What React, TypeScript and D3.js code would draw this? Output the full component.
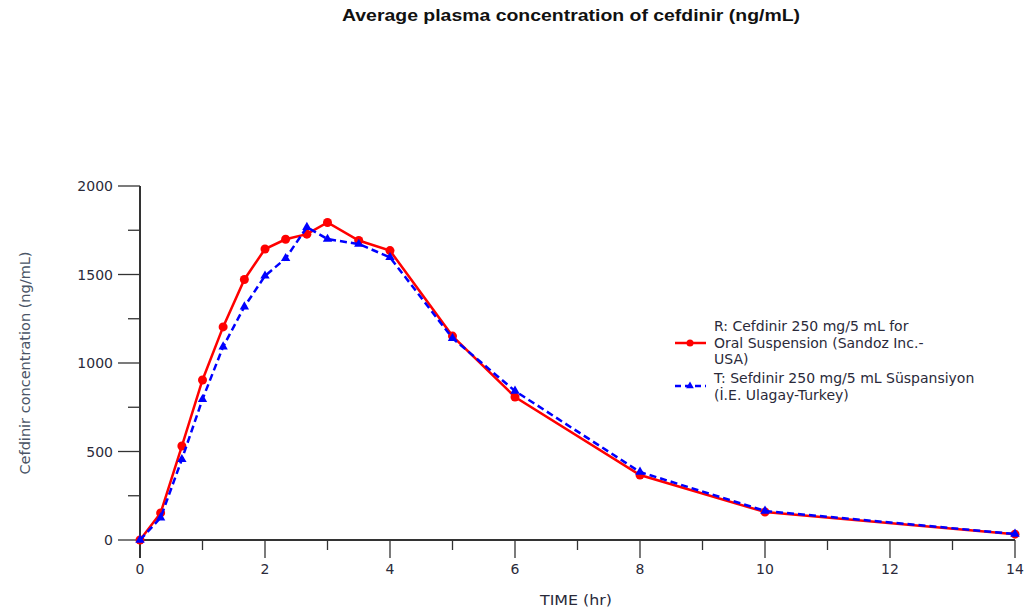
import React from "react";
import * as d3 from "d3";

const times = [0, 0.33, 0.67, 1, 1.33, 1.67, 2, 2.33, 2.67, 3, 3.5, 4, 5, 6, 8, 10, 14];
const refValues = [0, 153, 531, 904, 1204, 1472, 1644, 1699, 1728, 1794, 1692, 1635, 1152, 808, 367, 158, 33];
const testValues = [0, 126, 456, 795, 1092, 1318, 1492, 1591, 1767, 1700, 1672, 1597, 1140, 842, 384, 164, 34];
const xMajorTicks = [0, 2, 4, 6, 8, 10, 12, 14];
const xMinorTicks = [1, 3, 5, 7, 9, 11, 13];
const yMajorTicks = [0, 500, 1000, 1500, 2000];
const yMinorTicks = [250, 750, 1250, 1750];
const refLegend = ["R: Cefdinir 250 mg/5 mL for", "Oral Suspension (Sandoz Inc.-", "USA)"];
const testLegend = ["T: Sefdinir 250 mg/5 mL Süspansiyon", "(İ.E. Ulagay-Turkey)"];

export default function App() {
  const W = 1027, H = 610;
  const x = d3.scaleLinear().domain([0, 14]).range([140, 1015]);
  const y = d3.scaleLinear().domain([0, 2000]).range([540, 186]);
  const line = d3.line<number>().x((_, i) => x(times[i])).y((d) => y(d));
  const font = "'DejaVu Sans', Verdana, sans-serif";
  const tri = d3.symbol().type(d3.symbolTriangle).size(38)() as string;
  const textColor = "#2a2a3a";
  return (
    <svg width={W} height={H} style={{ position: "absolute", left: 0, top: 0, background: "#fff" }}>
      <text x={571} y={21} textAnchor="middle" fontFamily="'Liberation Sans', Arial, sans-serif" fontWeight="bold" fontSize={16} fill="#111" textLength={458} lengthAdjust="spacingAndGlyphs">
        Average plasma concentration of cefdinir (ng/mL)
      </text>
      {/* axes */}
      <line x1={x(0)} x2={x(14)} y1={y(0)} y2={y(0)} stroke="#333" strokeWidth={2} />
      <line x1={x(0)} x2={x(0)} y1={y(0) + 18} y2={y(2000)} stroke="#333" strokeWidth={2} />
      {yMajorTicks.map((t) => (
        <g key={"ym" + t}>
          <line x1={118} x2={x(0)} y1={y(t)} y2={y(t)} stroke="#333" strokeWidth={1.3} />
          <text x={113} y={y(t) + 5} textAnchor="end" fontFamily={font} fontSize={14} fill={textColor}>{t}</text>
        </g>
      ))}
      {yMinorTicks.map((t) => (
        <line key={"yn" + t} x1={128} x2={x(0)} y1={y(t)} y2={y(t)} stroke="#333" strokeWidth={1.3} />
      ))}
      {xMajorTicks.map((t) => (
        <g key={"xm" + t}>
          <line x1={x(t)} x2={x(t)} y1={y(0)} y2={558} stroke="#333" strokeWidth={1.3} />
          <text x={x(t)} y={574} textAnchor="middle" fontFamily={font} fontSize={14} fill={textColor}>{t}</text>
        </g>
      ))}
      {xMinorTicks.map((t) => (
        <line key={"xn" + t} x1={x(t)} x2={x(t)} y1={y(0)} y2={550} stroke="#333" strokeWidth={1.3} />
      ))}
      <text x={576} y={605} textAnchor="middle" fontFamily={font} fontSize={14} fill={textColor} textLength={72} lengthAdjust="spacingAndGlyphs">TIME (hr)</text>
      <text transform={`translate(30,${y(1000)}) rotate(-90)`} textAnchor="middle" fontFamily={font} fontSize={14} fill="#4a5566" textLength={223} lengthAdjust="spacingAndGlyphs">
        Cefdinir concentration (ng/mL)
      </text>
      {/* series */}
      <path d={line(refValues) as string} fill="none" stroke="#ff0000" strokeWidth={2.5} />
      {refValues.map((v, i) => (
        <circle key={"r" + i} cx={x(times[i])} cy={y(v)} r={4.5} fill="#ff0000" />
      ))}
      <path d={line(testValues) as string} fill="none" stroke="#0000ff" strokeWidth={2.5} strokeDasharray="7,4" />
      {testValues.map((v, i) => (
        <path key={"t" + i} d={tri} transform={`translate(${x(times[i])},${y(v)})`} fill="#0000ff" />
      ))}
      {/* legend */}
      <line x1={675} x2={706} y1={343} y2={343} stroke="#ff0000" strokeWidth={2.5} />
      <circle cx={690} cy={343} r={3.5} fill="#ff0000" />
      {refLegend.map((s, i) => (
        <text key={"lr" + i} x={714} y={331 + i * 16.5} fontFamily={font} fontSize={14} fill={textColor}>{s}</text>
      ))}
      <line x1={675} x2={706} y1={386} y2={386} stroke="#0000ff" strokeWidth={2.5} strokeDasharray="6,4" />
      <path d={d3.symbol().type(d3.symbolTriangle).size(26)() as string} transform="translate(690,386)" fill="#0000ff" />
      {testLegend.map((s, i) => (
        <text key={"lt" + i} x={714} y={383 + i * 16.5} fontFamily={font} fontSize={14} fill={textColor}>{s}</text>
      ))}
    </svg>
  );
}
